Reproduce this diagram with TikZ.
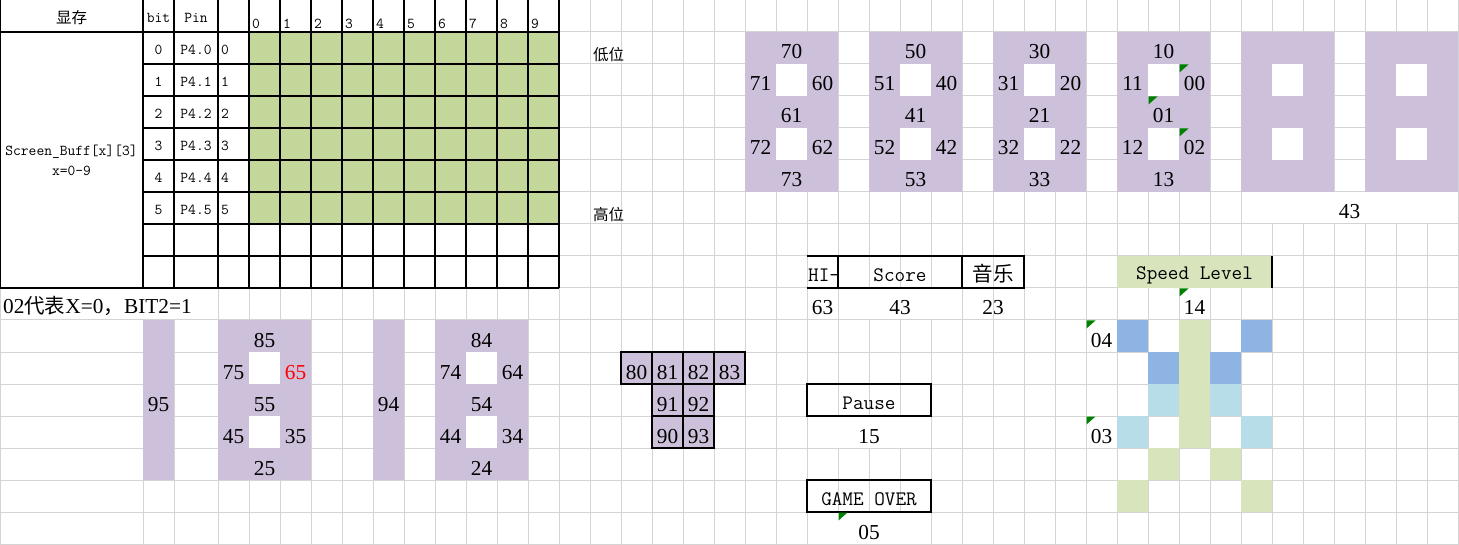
\documentclass[tikz,border=0pt]{standalone}
\usepackage{fontspec}
\setmainfont{Liberation Serif}
\newfontfamily\cjk{Noto Sans CJK SC}
\definecolor{gridgray}{HTML}{D4D4D4}
\definecolor{tablegreen}{HTML}{C4D79B}
\definecolor{segpurple}{HTML}{CCC0DA}
\definecolor{speedgreen}{HTML}{D8E4BC}
\definecolor{speedblue}{HTML}{8DB4E2}
\definecolor{speedcyan}{HTML}{B7DEE8}
\definecolor{notegreen}{HTML}{008000}
\newcommand{\numfont}{\fontsize{21.3}{24}\selectfont}
\newcommand{\smalltt}{\ttfamily\fontsize{15.1}{18}\selectfont}
\newcommand{\bigtt}{\ttfamily\fontsize{20.6}{24}\selectfont}
\newcommand{\smallcjk}{\cjk\fontsize{15.5}{18}\selectfont}
\newcommand{\bigcjk}{\cjk\fontsize{20.5}{24}\selectfont}
\tikzset{
	gline/.style={draw=gridgray, line width=1pt},
	bline/.style={draw=black, line width=1.2pt},
	lbl/.style={inner sep=0pt, anchor=base},
	num/.style={lbl, font=\numfont},
	ttsmall/.style={lbl, font=\smalltt},
	ttbig/.style={lbl, font=\bigtt}
}
\begin{document}
\begin{tikzpicture}[x=1pt, y=-1pt]
	\useasboundingbox (0,0) rectangle (1459,545);

	% sheet grid
	\foreach \y in {0,32,...,544} \draw[gline] (0,\y) -- (1459,\y);
	\foreach \x in {0,143,174,218} \draw[gline] (\x,0) -- (\x,545);
	\foreach \k in {0,...,39} \draw[gline] ({249+31*\k},0) -- ({249+31*\k},545);

	% merged cells and overflow text
	\fill[white] (0,32) rectangle (143,288);
	\fill[white] (0.5,288.5) rectangle (217.5,319.5);
	\fill[white] (1241.5,192.5) rectangle (1457.5,223.5);
	\fill[white] (838.5,288.5) rectangle (961.5,319.5);
	\fill[white] (807.5,416.5) rectangle (930.5,447.5);
	\fill[white] (807.5,512.5) rectangle (930.5,543.5);

	% fills
	\fill[tablegreen] (249,32) rectangle (559,224);
	\foreach \g in {16,20,24,28,32,36} {
		\fill[segpurple] ({249+31*\g},32) rectangle ({342+31*\g},192);
		\fill[white] ({280+31*\g},64) rectangle ({311+31*\g},96);
		\fill[white] ({280+31*\g},128) rectangle ({311+31*\g},160);
	}
	\fill[segpurple] (143,320) rectangle (174,480);
	\fill[segpurple] (218,320) rectangle (311,480);
	\fill[white] (249,352) rectangle (280,384);
	\fill[white] (249,416) rectangle (280,448);
	\fill[segpurple] (373,320) rectangle (404,480);
	\fill[segpurple] (435,320) rectangle (528,480);
	\fill[white] (466,352) rectangle (497,384);
	\fill[white] (466,416) rectangle (497,448);
	\fill[segpurple] (621,352) rectangle (745,384);
	\fill[segpurple] (652,384) rectangle (714,448);
	\fill[speedgreen] (1117,256) rectangle (1272,288);
	\foreach \j/\r/\c in {28/10/speedblue, 32/10/speedblue, 29/11/speedblue, 31/11/speedblue,
		29/12/speedcyan, 31/12/speedcyan, 28/13/speedcyan, 32/13/speedcyan,
		30/10/speedgreen, 30/11/speedgreen, 30/12/speedgreen, 30/13/speedgreen,
		29/14/speedgreen, 31/14/speedgreen, 28/15/speedgreen, 32/15/speedgreen}
		\fill[\c] ({249+31*\j},{32*\r}) rectangle ({280+31*\j},{32*\r+32});

	% borders
	\draw[bline] (0,0) -- (0,288);
	\draw[bline] (0,32) -- (559,32);
	\draw[bline] (0,288) -- (559,288);
	\foreach \y in {64,96,...,256} \draw[bline] (143,\y) -- (559,\y);
	\foreach \x in {143,174,218} \draw[bline] (\x,0) -- (\x,288);
	\foreach \k in {0,...,10} \draw[bline] ({249+31*\k},0) -- ({249+31*\k},288);
	\foreach \j/\r in {12/11,13/11,14/11,15/11,13/12,14/12,13/13,14/13}
		\draw[bline] ({249+31*\j},{32*\r}) rectangle ++(31,32);
	\draw[bline] (807,256) -- (1024,256) -- (1024,288) -- (807,288);
	\draw[bline] (838,256) -- (838,288);
	\draw[bline] (962,256) -- (962,288);
	\draw[bline] (807,384) rectangle (931,416);
	\draw[bline] (807,480) rectangle (931,512);
	\draw[bline] (1272,256) -- (1272,288);

	% comment marks
	\foreach \x/\y in {1179/64, 1148/96, 1179/128, 1179/288, 1086/320, 1086/416, 838/512}
		\fill[notegreen] ({\x+0.5},{\y+0.5}) -- ++(9,0) -- ++(-9,8) -- cycle;

	% table texts
	\node[lbl, font=\smallcjk] (xiancun) at (71.5,24) {显存};
	\node[ttsmall] (bithead) at (158.5,23) {bit};
	\node[ttsmall] (pinhead) at (196,23) {Pin};
	\foreach \k in {0,...,9} \node[ttsmall, anchor=base west] (col\k) at ({252+31*\k},29) {\k};
	\foreach \r in {0,...,5} {
		\node[ttsmall] (bit\r) at (158.5,{32*\r+55}) {\r};
		\node[ttsmall] (pin\r) at (196,{32*\r+55}) {P4.\r};
		\node[ttsmall, anchor=base west] (row\r) at (221,{32*\r+55}) {\r};
	}
	\node[ttsmall] (buffname) at (71.5,156) {Screen\_Buff[x][3]};
	\node[ttsmall] (buffrange) at (71.5,176) {x=0-9};
	\node[lbl, anchor=base west, font=\numfont] (note02) at (3,314) {02{\bigcjk 代表}X=0{\bigcjk ，}BIT2=1};
	\node[lbl, anchor=base west, font=\smallcjk] (lowpos) at (593,61) {低位};
	\node[lbl, anchor=base west, font=\smallcjk] (highpos) at (593,221) {高位};

	% upper digits
	\foreach \g/\segA/\segB/\segC/\segD/\segE/\segF/\segG in {16/70/71/60/61/72/62/73,
		20/50/51/40/41/52/42/53, 24/30/31/20/21/32/22/33, 28/10/11/00/01/12/02/13} {
		\node[num] (s\segA) at ({295.5+31*\g},59) {\segA};
		\node[num] (s\segB) at ({264.5+31*\g},91) {\segB};
		\node[num] (s\segC) at ({326.5+31*\g},91) {\segC};
		\node[num] (s\segD) at ({295.5+31*\g},123) {\segD};
		\node[num] (s\segE) at ({264.5+31*\g},155) {\segE};
		\node[num] (s\segF) at ({326.5+31*\g},155) {\segF};
		\node[num] (s\segG) at ({295.5+31*\g},187) {\segG};
	}
	\node[num] (s43) at (1349.5,219) {43};

	% lower digits
	\node[num] (b95) at (158.5,411) {95};
	\node[num] (b85) at (264.5,347) {85};
	\node[num] (b75) at (233.5,379) {75};
	\node[num, text=red] (b65) at (295.5,379) {65};
	\node[num] (b55) at (264.5,411) {55};
	\node[num] (b45) at (233.5,443) {45};
	\node[num] (b35) at (295.5,443) {35};
	\node[num] (b25) at (264.5,475) {25};
	\node[num] (b94) at (388.5,411) {94};
	\node[num] (b84) at (481.5,347) {84};
	\node[num] (b74) at (450.5,379) {74};
	\node[num] (b64) at (512.5,379) {64};
	\node[num] (b54) at (481.5,411) {54};
	\node[num] (b44) at (450.5,443) {44};
	\node[num] (b34) at (512.5,443) {34};
	\node[num] (b24) at (481.5,475) {24};
	\node[num] (b80) at (636.5,379) {80};
	\node[num] (b81) at (667.5,379) {81};
	\node[num] (b82) at (698.5,379) {82};
	\node[num] (b83) at (729.5,379) {83};
	\node[num] (b91) at (667.5,411) {91};
	\node[num] (b92) at (698.5,411) {92};
	\node[num] (b90) at (667.5,443) {90};
	\node[num] (b93) at (698.5,443) {93};

	% status words
	\node[ttbig, anchor=base west] (hilbl) at (808,282) {HI-};
	\node[ttbig] (score) at (900,282) {Score};
	\node[lbl, font=\bigcjk] (music) at (993,282) {音乐};
	\node[num] (hi63) at (822.5,315) {63};
	\node[num] (score43) at (900,315) {43};
	\node[num] (music23) at (993,315) {23};
	\node[ttbig] (pause) at (869,409) {Pause};
	\node[num] (pause15) at (869,443) {15};
	\node[ttbig] (gameover) at (869,505) {GAME OVER};
	\node[num] (over05) at (869,539) {05};
	\node[ttbig] (speed) at (1194.5,280) {Speed Level};
	\node[num] (speed14) at (1194.5,315) {14};
	\node[num] (speed04) at (1101.5,347) {04};
	\node[num] (speed03) at (1101.5,443) {03};
\end{tikzpicture}
\end{document}
